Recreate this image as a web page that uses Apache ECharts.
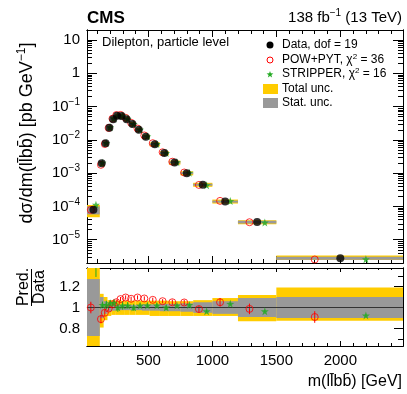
<!DOCTYPE html>
<html>
<head>
<meta charset="utf-8">
<title>m(llbb) cross section</title>
<style>
html,body{margin:0;padding:0;background:#fff;}
#main{width:407px;height:394px;}
</style>
</head>
<body>
<div id="main"></div>
<script src="https://cdn.jsdelivr.net/npm/echarts@6/dist/echarts.min.js"></script>
<script>
// bins and values
var binEdges = [20,120,150,180,210,240,270,310,350,400,450,510,590,660,750,850,1000,1200,1500,2500];
var dataXsec = [7.9e-5,2.0e-3,7.9e-3,2.3e-2,4.2e-2,5.3e-2,5.2e-2,4.2e-2,3.0e-2,2.0e-2,1.25e-2,7.4e-3,4.0e-3,2.1e-3,1.0e-3,4.5e-4,1.4e-4,3.4e-5,2.8e-6];
var powRatio = [1.00,0.89,0.95,0.99,1.03,1.05,1.08,1.095,1.083,1.095,1.086,1.073,1.06,1.05,1.048,0.985,1.05,0.987,0.91];
var powErr = [0.055,0.04,0.03,0.02,0.02,0.02,0.02,0.02,0.02,0.02,0.02,0.02,0.02,0.025,0.025,0.03,0.04,0.05,0.055];
var stripRatio = [1.42,1.025,1.025,1.04,1.045,1.00,1.02,1.02,1.00,1.02,1.02,1.02,1.00,1.02,1.025,0.965,1.035,0.965,0.925];
var stripErr = [0.13,0.03,0.04,0.03,0.03,0.04,0.04,0.03,0.03,0.02,0.02,0.02,0.02,0.01,0.01,0.01,0.01,0.01,0.01];
var totUp = [0.40,0.13,0.10,0.07,0.07,0.065,0.065,0.065,0.065,0.065,0.065,0.065,0.065,0.06,0.06,0.07,0.09,0.12,0.19];
var totDn = [0.40,0.19,0.12,0.08,0.07,0.07,0.07,0.07,0.07,0.07,0.07,0.08,0.08,0.08,0.08,0.08,0.08,0.13,0.125];
var statUnc = [0.27,0.10,0.06,0.04,0.03,0.025,0.025,0.025,0.025,0.025,0.03,0.03,0.035,0.035,0.04,0.05,0.06,0.09,0.10];
var logTicks = [10,1,0.1,0.01,0.001,0.0001,0.00001];
var xMajor = [500,1000,1500,2000];
var xMinor = [100,200,300,400,600,700,800,900,1100,1200,1300,1400,1600,1700,1800,1900,2100,2200,2300,2400];
var ratioTicks = [0.8,1,1.2];
var ratioMinor = [0.7,0.9,1.1,1.3];

var FONT = 'Liberation Sans';
var XMIN = 20, XMAX = 2490;
var YMIN = 2e-6, YMAX = 20;
var RMIN = 0.635, RMAX = 1.375;
var MASS = 'm(ll\u0304bb\u0304)';

var logMinor = [];
for (var e = -6; e <= 1; e++) {
  for (var m = 2; m <= 9; m++) {
    var v = m * Math.pow(10, e);
    if (v > YMIN && v < YMAX) logMinor.push(v);
  }
}

var nb = dataXsec.length;
var ctr = [], wid = [];
for (var i = 0; i < nb; i++) {
  ctr.push((binEdges[i] + binEdges[i+1]) / 2);
  wid.push(binEdges[i+1] - binEdges[i]);
}

var dataPts = [], powPts = [], stripPts = [];
var bandTotTop = [], bandStatTop = [], bandTotRat = [], bandStatRat = [];
var powRatPts = [], stripRatPts = [], powBars = [], stripBars = [];
for (var i = 0; i < nb; i++) {
  var lo = binEdges[i], hi = binEdges[i+1], d = dataXsec[i];
  var xp = ctr[i] - 0.2 * wid[i], xs = ctr[i] + 0.2 * wid[i];
  dataPts.push([ctr[i], d]);
  powPts.push([xp, d * powRatio[i]]);
  stripPts.push([xs, d * stripRatio[i]]);
  bandTotTop.push([lo, hi, d * (1 - totDn[i]), d * (1 + totUp[i])]);
  bandStatTop.push([lo, hi, d * (1 - statUnc[i]), d * (1 + statUnc[i])]);
  bandTotRat.push([lo, hi, 1 - totDn[i], 1 + totUp[i]]);
  bandStatRat.push([lo, hi, 1 - statUnc[i], 1 + statUnc[i]]);
  powRatPts.push([xp, powRatio[i]]);
  stripRatPts.push([xs, stripRatio[i]]);
  powBars.push([xp, powRatio[i] - powErr[i], powRatio[i] + powErr[i]]);
  stripBars.push([xs, stripRatio[i] - stripErr[i], stripRatio[i] + stripErr[i]]);
}

function bandRender(color, minH) {
  return function (params, api) {
    var p1 = api.coord([api.value(0), api.value(3)]);
    var p2 = api.coord([api.value(1), api.value(2)]);
    var h = p2[1] - p1[1], y = p1[1];
    if (h < minH) { y = y - (minH - h) / 2; h = minH; }
    var r = echarts.graphic.clipRectByRect(
      {x: p1[0], y: y, width: p2[0] - p1[0], height: h},
      {x: params.coordSys.x, y: params.coordSys.y, width: params.coordSys.width, height: params.coordSys.height});
    if (!r) return;
    return {type: 'rect', shape: r, style: {fill: color}};
  };
}

function barRender(color) {
  return function (params, api) {
    var a = api.coord([api.value(0), api.value(1)]);
    var b = api.coord([api.value(0), api.value(2)]);
    return {type: 'line', shape: {x1: a[0], y1: a[1], x2: b[0], y2: b[1]}, style: {stroke: color, lineWidth: 1}};
  };
}

var starPath = 'path://M0,-10L2.35,-3.24L9.51,-3.09L3.8,1.24L5.88,8.09L0,4L-5.88,8.09L-3.8,1.24L-9.51,-3.09L-2.35,-3.24Z';
var starUnit = [[0,-10],[2.35,-3.24],[9.51,-3.09],[3.8,1.24],[5.88,8.09],[0,4],[-5.88,8.09],[-3.8,1.24],[-9.51,-3.09],[-2.35,-3.24]];
function starAt(cx, cy, s) {
  return starUnit.map(function (p) { return [cx + p[0] * s, cy + p[1] * s]; });
}

function xAx(grid, pos, vals, len, labels) {
  return {
    type: 'value', gridIndex: grid, position: pos, min: XMIN, max: XMAX,
    axisLine: {show: true, lineStyle: {color: '#000', width: 1}},
    axisTick: {show: true, inside: true, length: len, customValues: vals, lineStyle: {color: '#000'}},
    axisLabel: labels ? {show: true, customValues: vals, color: '#000', fontFamily: FONT, fontSize: 15, margin: 7,
      formatter: function (v) { return String(v); }} : {show: false},
    splitLine: {show: false}
  };
}

function yLog(pos, vals, len, labels) {
  return {
    type: 'log', gridIndex: 0, position: pos, min: YMIN, max: YMAX,
    axisLine: {show: true, lineStyle: {color: '#000', width: 1}},
    axisTick: {show: true, inside: true, length: len, customValues: vals, lineStyle: {color: '#000'}},
    axisLabel: labels ? {
      show: true, customValues: vals, color: '#000', fontFamily: FONT, fontSize: 15, margin: 7,
      formatter: function (v) {
        if (v > 5) return '10';
        if (v > 0.5) return '1';
        return '10{s|\u2212' + Math.round(-Math.log10(v)) + '}';
      },
      rich: {s: {fontSize: 10, fontFamily: FONT, color: '#000', padding: [0, 0, 9, 0]}}
    } : {show: false},
    splitLine: {show: false}
  };
}

function yRat(pos, vals, len, labels) {
  return {
    type: 'value', gridIndex: 1, position: pos, min: RMIN, max: RMAX,
    axisLine: {show: true, lineStyle: {color: '#000', width: 1}},
    axisTick: {show: true, inside: true, length: len, customValues: vals, lineStyle: {color: '#000'}},
    axisLabel: labels ? {show: true, customValues: vals, color: '#000', fontFamily: FONT, fontSize: 15, margin: 7,
      formatter: function (v) { return String(Math.round(v * 10) / 10); }} : {show: false},
    splitLine: {show: false}
  };
}

var chart = echarts.init(document.getElementById('main'), null, {renderer: 'canvas'});

var option = {
  animation: false,
  backgroundColor: '#fff',
  textStyle: {fontFamily: FONT},
  grid: [
    {left: 87, top: 30, width: 316, height: 233},
    {left: 87, top: 268, width: 316, height: 78}
  ],
  xAxis: [
    xAx(0, 'bottom', xMajor, 7, false),
    xAx(0, 'top', xMajor, 7, false),
    xAx(0, 'bottom', xMinor, 4, false),
    xAx(0, 'top', xMinor, 4, false),
    xAx(1, 'bottom', xMajor, 5, true),
    xAx(1, 'top', xMajor, 4, false),
    xAx(1, 'bottom', xMinor, 3, false),
    xAx(1, 'top', xMinor, 2, false)
  ],
  yAxis: [
    yLog('left', logTicks, 10, true),
    yLog('right', logTicks, 10, false),
    yLog('left', logMinor, 5, false),
    yLog('right', logMinor, 5, false),
    yRat('left', ratioTicks, 9, true),
    yRat('right', ratioTicks, 9, false),
    yRat('left', ratioMinor, 5, false),
    yRat('right', ratioMinor, 5, false)
  ],
  series: [
    {type: 'custom', xAxisIndex: 0, yAxisIndex: 0, data: bandTotTop, renderItem: bandRender('#ffcc00', 4), z: 2},
    {type: 'custom', xAxisIndex: 0, yAxisIndex: 0, data: bandStatTop, renderItem: bandRender('#999999', 2), z: 3},
    {type: 'scatter', xAxisIndex: 0, yAxisIndex: 0, data: powPts, symbol: 'circle', symbolSize: 7,
      itemStyle: {color: 'rgba(0,0,0,0)', borderColor: '#ff0000', borderWidth: 1}, z: 4},
    {type: 'scatter', xAxisIndex: 0, yAxisIndex: 0, data: stripPts, symbol: starPath, symbolSize: 8,
      itemStyle: {color: '#22aa22'}, z: 4},
    {type: 'scatter', xAxisIndex: 0, yAxisIndex: 0, data: dataPts, symbol: 'circle', symbolSize: 8,
      itemStyle: {color: '#000'}, z: 5},

    {type: 'custom', xAxisIndex: 4, yAxisIndex: 4, data: bandTotRat, renderItem: bandRender('#ffcc00', 0), z: 2},
    {type: 'custom', xAxisIndex: 4, yAxisIndex: 4, data: bandStatRat, renderItem: bandRender('#999999', 0), z: 3,
      markLine: {silent: true, symbol: 'none', label: {show: false}, lineStyle: {color: '#333', width: 1, type: 'solid'},
        data: [{yAxis: 1}]}},
    {type: 'custom', xAxisIndex: 4, yAxisIndex: 4, data: powBars, renderItem: barRender('#ff0000'), clip: true, z: 4},
    {type: 'custom', xAxisIndex: 4, yAxisIndex: 4, data: stripBars, renderItem: barRender('#22aa22'), clip: true, z: 4},
    {type: 'scatter', xAxisIndex: 4, yAxisIndex: 4, data: powRatPts, symbol: 'circle', symbolSize: 7, clip: true,
      itemStyle: {color: 'rgba(0,0,0,0)', borderColor: '#ff0000', borderWidth: 1}, z: 5},
    {type: 'scatter', xAxisIndex: 4, yAxisIndex: 4, data: stripRatPts, symbol: starPath, symbolSize: 8, clip: true,
      itemStyle: {color: '#22aa22'}, z: 5}
  ],
  graphic: [
    {type: 'text', x: 87, y: 27, style: {text: 'CMS', font: 'bold 17px ' + FONT, fill: '#000', textVerticalAlign: 'bottom'}},
    {type: 'text', x: 402, y: 27, style: {text: '138 fb{s|\u22121} (13 TeV)', font: '15px ' + FONT, fill: '#000',
      textAlign: 'right', textVerticalAlign: 'bottom',
      rich: {s: {fontSize: 10, fontFamily: FONT, padding: [0, 0, 9, 0]}}}},
    {type: 'text', x: 102, y: 42, style: {text: 'Dilepton, particle level', font: '13px ' + FONT, fill: '#000', textVerticalAlign: 'middle'}},
    // legend
    {type: 'circle', shape: {cx: 270, cy: 45, r: 3.5}, style: {fill: '#000'}},
    {type: 'text', x: 282, y: 45, style: {text: 'Data, dof = 19', font: '12px ' + FONT, fill: '#000', textVerticalAlign: 'middle'}},
    {type: 'circle', shape: {cx: 270, cy: 60, r: 3}, style: {fill: 'none', stroke: '#ff0000', lineWidth: 1}},
    {type: 'text', x: 282, y: 60, style: {text: 'POW+PYT, \u03c7{s|2} = 36', font: '12px ' + FONT, fill: '#000', textVerticalAlign: 'middle',
      rich: {s: {fontSize: 8, fontFamily: FONT, padding: [0, 0, 7, 0]}}}},
    {type: 'polygon', shape: {points: starAt(270, 74.5, 0.36)}, style: {fill: '#22aa22'}},
    {type: 'text', x: 282, y: 74, style: {text: 'STRIPPER, \u03c7{s|2} = 16', font: '12px ' + FONT, fill: '#000', textVerticalAlign: 'middle',
      rich: {s: {fontSize: 8, fontFamily: FONT, padding: [0, 0, 7, 0]}}}},
    {type: 'rect', shape: {x: 263, y: 84, width: 15, height: 10}, style: {fill: '#ffcc00'}},
    {type: 'text', x: 282, y: 89, style: {text: 'Total unc.', font: '12px ' + FONT, fill: '#000', textVerticalAlign: 'middle'}},
    {type: 'rect', shape: {x: 263, y: 98, width: 15, height: 10}, style: {fill: '#999999'}},
    {type: 'text', x: 282, y: 103, style: {text: 'Stat. unc.', font: '12px ' + FONT, fill: '#000', textVerticalAlign: 'middle'}},
    // axis titles
    {type: 'text', x: 27, y: 133, rotation: Math.PI / 2,
      style: {text: 'd\u03c3/d' + MASS + ' [pb GeV{s|\u22121}]', font: '18px ' + FONT, fill: '#000',
        textAlign: 'center', textVerticalAlign: 'middle',
        rich: {s: {fontSize: 12, fontFamily: FONT, padding: [0, 0, 10, 0]}}}},
    {type: 'text', x: 402, y: 382, style: {text: MASS + ' [GeV]', font: '16px ' + FONT, fill: '#000',
      textAlign: 'right', textVerticalAlign: 'middle'}},
    {type: 'text', x: 24, y: 287, rotation: Math.PI / 2, style: {text: 'Pred.', font: '16px ' + FONT, fill: '#000',
      textAlign: 'center', textVerticalAlign: 'middle'}},
    {type: 'line', shape: {x1: 31.5, y1: 269, x2: 31.5, y2: 306}, style: {stroke: '#000', lineWidth: 1}},
    {type: 'text', x: 40, y: 287, rotation: Math.PI / 2, style: {text: 'Data', font: '16px ' + FONT, fill: '#000',
      textAlign: 'center', textVerticalAlign: 'middle'}}
  ]
};
chart.setOption(option);
</script>
</body>
</html>
